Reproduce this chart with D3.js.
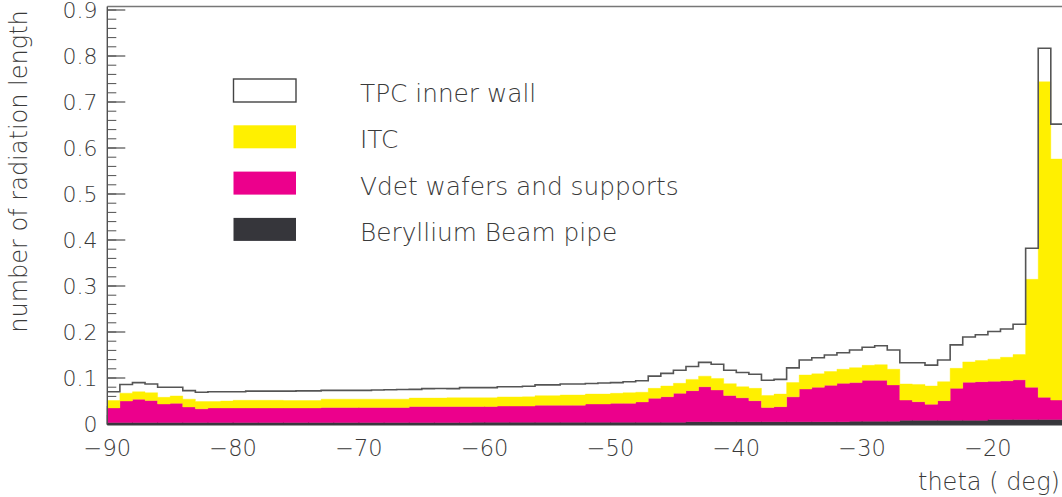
<!DOCTYPE html>
<html>
<head>
<meta charset="utf-8">
<script src="https://cdn.jsdelivr.net/npm/d3@7"></script>
<style>
  html, body { margin: 0; padding: 0; background: #fff; overflow: hidden; }
  svg { display: block; }
  text { font-family: "DejaVu Sans ExtraLight", "DejaVu Sans", "Liberation Sans", sans-serif; font-weight: 200; fill: #3a3a3a; }
</style>
</head>
<body>
<svg id="chart" width="1062" height="497"></svg>
<script>
// ---- data: 1-degree bins in theta, lower edges -90 ... -15 ----
const binStart = -90;
const binWidth = 1;

const pipe = [
  .003,.003,.003,.003,.003,.003,.003,.003,.003,.003,
  .003,.003,.003,.003,.003,.003,.003,.003,.003,.003,
  .003,.003,.003,.003,.003,.003,.003,.003,.003,.004,
  .004,.004,.004,.004,.004,.004,.004,.004,.004,.004,
  .004,.004,.004,.004,.004,.004,.005,.005,.005,.005,
  .005,.005,.005,.005,.005,.005,.005,.005,.005,.006,
  .006,.006,.006,.008,.008,.008,.008,.008,.008,.008,
  .010,.010,.010,.010,.010,.010
];
const vdet = [
  .032,.047,.051,.048,.0405,.042,.034,.030,.032,.032,
  .032,.032,.032,.032,.032,.032,.032,.033,.033,.033,
  .033,.033,.033,.033,.035,.035,.035,.035,.035,.034,
  .034,.035,.035,.035,.037,.037,.037,.037,.0395,.0395,
  .041,.041,.044,.052,.0554,.0627,.0675,.076,.069,.057,
  .052,.0457,.031,.0327,.054,.071,.075,.079,.0834,.084,
  .089,.089,.079,.044,.0405,.035,.0427,.0695,.083,.084,
  .083,.084,.086,.070,.048,.042
];
const itc = [
  .016,.017,.016,.017,.0145,.016,.017,.016,.014,.015,
  .0165,.0165,.0165,.0165,.016,.016,.016,.018,.018,.018,
  .018,.018,.018,.018,.0183,.0183,.0183,.019,.019,.019,
  .019,.0197,.0197,.020,.0206,.0206,.022,.022,.0215,.0215,
  .0217,.023,.021,.0215,.0232,.0217,.0245,.023,.025,.0257,
  .024,.0268,.026,.0273,.031,.0305,.029,.030,.0306,.0325,
  .0325,.034,.034,.035,.0375,.0396,.0413,.0435,.044,.046,
  .048,.051,.055,.2345,.686,.524
];
const tpc = [
  .019,.019,.020,.019,.022,.019,.0185,.020,.021,.020,
  .0185,.020,.020,.020,.0205,.021,.021,.019,.019,.019,
  .019,.020,.0205,.021,.019,.0205,.021,.020,.022,.022,
  .022,.0223,.0223,.023,.0234,.0234,.024,.024,.023,.024,
  .0233,.024,.025,.0265,.0274,.0286,.028,.030,.031,.0293,
  .031,.0305,.033,.032,.032,.0325,.035,.036,.036,.0385,
  .0395,.041,.042,.046,.047,.0454,.047,.051,.054,.056,
  .060,.0615,.066,.0675,.073,.076
];

const seriesKeys = ["pipe", "vdet", "itc", "tpc"];
const legendLabels = ["TPC inner wall", "ITC", "Vdet wafers and supports", "Beryllium Beam pipe"];
const legendKeys = ["tpc", "itc", "vdet", "pipe"];
const xTicks = [-90, -80, -70, -60, -50, -40, -30, -20];
const yTicks = [0, 0.1, 0.2, 0.3, 0.4, 0.5, 0.6, 0.7, 0.8, 0.9];
const xTitle = "theta ( deg)";
const yTitle = "number of radiation length";

// ---- layout / style ----
const colors = { pipe: "#36363b", vdet: "#ec008c", itc: "#fff000", tpc: "#ffffff" };
const axisColor = "#505050";
const W = 1062, H = 497;
const x0px = 107.3, pxPerDeg = 12.58;
const yBottom = 424, yTop0_9 = 10, frameTop = 6.5;

const svg = d3.select("#chart");

const x = d3.scaleLinear().domain([-90, -10]).range([x0px, x0px + 80 * pxPerDeg]);
const y = d3.scaleLinear().domain([0, 0.9]).range([yBottom, yTop0_9]);

const rows = pipe.map((_, i) => ({
  lo: binStart + i * binWidth,
  hi: binStart + (i + 1) * binWidth,
  pipe: pipe[i], vdet: vdet[i], itc: itc[i], tpc: tpc[i]
}));
const stacked = d3.stack().keys(seriesKeys)(rows);

// ---- axes ticks (under the fills) ----
const axG = svg.append("g");
const yMinor = d3.range(0, 0.9001, 0.02);
axG.selectAll("line.ymin").data(yMinor).join("line")
  .attr("x1", x0px).attr("x2", x0px + 9)
  .attr("y1", d => y(d)).attr("y2", d => y(d))
  .attr("stroke", axisColor).attr("stroke-width", 1);
axG.selectAll("line.ymaj").data(yTicks).join("line")
  .attr("x1", x0px).attr("x2", x0px + 18)
  .attr("y1", d => y(d)).attr("y2", d => y(d))
  .attr("stroke", axisColor).attr("stroke-width", 1.2);
const xMinor = d3.range(-90, -9.9, 2);
axG.selectAll("line.xmin").data(xMinor).join("line")
  .attr("x1", d => x(d)).attr("x2", d => x(d))
  .attr("y1", yBottom).attr("y2", yBottom - 9)
  .attr("stroke", axisColor);
axG.selectAll("line.xmaj").data(xTicks).join("line")
  .attr("x1", d => x(d)).attr("x2", d => x(d))
  .attr("y1", yBottom).attr("y2", yBottom - 18)
  .attr("stroke", axisColor);

// ---- histogram fills ----
function stepPoints(layer) {
  const pts = [];
  layer.forEach(d => {
    pts.push({ xv: d.data.lo, y0: d[0], y1: d[1] });
    pts.push({ xv: d.data.hi, y0: d[0], y1: d[1] });
  });
  return pts;
}
const area = d3.area().x(d => x(d.xv)).y0(d => y(d.y0)).y1(d => y(d.y1));

const fillG = svg.append("g");
stacked.forEach(layer => {
  if (layer.key === "tpc") return;
  fillG.append("path")
    .attr("d", area(stepPoints(layer)))
    .attr("fill", colors[layer.key])
    .attr("stroke", colors[layer.key])
    .attr("stroke-width", 0.4);
});

// TPC outline (top of the stack)
const topLayer = stacked.find(l => l.key === "tpc");
const outlinePts = [];
topLayer.forEach(d => {
  outlinePts.push([x(d.data.lo), y(d[1])]);
  outlinePts.push([x(d.data.hi), y(d[1])]);
});
svg.append("path")
  .attr("d", d3.line()(outlinePts))
  .attr("fill", "none")
  .attr("stroke", "#555")
  .attr("stroke-width", 1.6);

// ---- frame lines ----
svg.append("line")
  .attr("x1", x0px).attr("x2", W).attr("y1", frameTop).attr("y2", frameTop)
  .attr("stroke", "#777").attr("stroke-width", 1.3);
svg.append("line")
  .attr("x1", x0px).attr("x2", x0px).attr("y1", frameTop).attr("y2", yBottom + 1)
  .attr("stroke", axisColor).attr("stroke-width", 1.4);
svg.append("line")
  .attr("x1", x0px).attr("x2", W).attr("y1", yBottom + 0.5).attr("y2", yBottom + 0.5)
  .attr("stroke", "#3a3a3e").attr("stroke-width", 2);

// ---- tick labels ----
const fmtY = d => d === 0 ? "0" : d3.format(".1f")(d);
svg.append("g").selectAll("text").data(yTicks).join("text")
  .attr("x", 97.5).attr("y", d => y(d) + 0.5)
  .attr("text-anchor", "end").attr("dominant-baseline", "central")
  .attr("font-size", 22)
  .text(fmtY);
svg.append("g").selectAll("text").data(xTicks).join("text")
  .attr("x", d => x(d)).attr("y", 447.5)
  .attr("text-anchor", "middle").attr("dominant-baseline", "central")
  .attr("font-size", 22.5)
  .text(d => d < 0 ? "\u2212" + Math.abs(d) : String(d));

// ---- titles ----
svg.append("text")
  .attr("x", 918).attr("y", 489.5)
  .attr("font-size", 24)
  .text(xTitle);
svg.append("text")
  .attr("transform", "translate(19,171.5) rotate(-90)")
  .attr("text-anchor", "middle").attr("dominant-baseline", "central")
  .attr("font-size", 24)
  .text(yTitle);

// ---- legend ----
const legG = svg.append("g");
const legX = 233.5, legY0 = 79, legStep = 46.3, boxW = 62.5, boxH = 23;
legendKeys.forEach((k, i) => {
  const yy = legY0 + i * legStep;
  legG.append("rect")
    .attr("x", legX).attr("y", yy).attr("width", boxW).attr("height", boxH)
    .attr("fill", colors[k])
    .attr("stroke", k === "tpc" ? "#444" : "none")
    .attr("stroke-width", 1.4);
  legG.append("text")
    .attr("x", 360).attr("y", yy + boxH / 2 + 3)
    .attr("dominant-baseline", "central")
    .attr("font-size", 24.8)
    .text(legendLabels[i]);
});
</script>
</body>
</html>
